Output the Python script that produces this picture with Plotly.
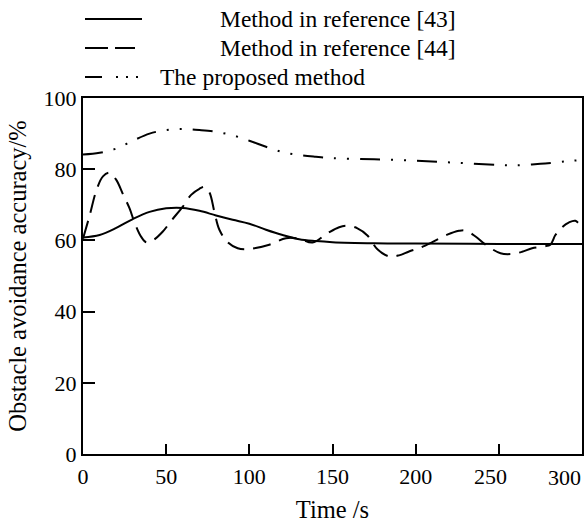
import plotly.graph_objects as go

NB = "\u00a0"

# Time axis (s)
x_ticks = [0, 50, 100, 150, 200, 250, 300]
x_ticklabels = ["0", "50", "100", "150", "200", "250", "300"]
y_ticks = [0, 20, 40, 60, 80, 100]
y_ticklabels = ["0", "20", "40", "60", "80", "100"]

# Method in reference [43]
t_ref43 = [0, 10, 20, 30, 40, 50, 60, 70, 80, 90, 100, 110, 120, 130, 140, 150, 175, 200, 250, 300]
v_ref43 = [60.8, 61.5, 63.5, 66.0, 68.0, 69.0, 69.1, 68.3, 67.0, 65.8, 64.7, 63.0, 61.5, 60.3, 59.8, 59.5, 59.2, 59.1, 59.0, 59.0]

# Method in reference [44]
t_ref44 = [0, 4, 8, 12, 16, 20, 24, 28, 31, 35, 38, 42, 48, 53, 60, 65, 70, 73, 76, 79, 82, 87, 93,
           97, 103, 112, 122, 130, 138, 147, 154, 159, 165, 171, 177, 184, 190, 196, 202, 210, 219,
           226, 230, 236, 242, 251, 258, 264, 270, 277, 281, 284, 288, 292, 296, 300]
v_ref44 = [60.5, 67.0, 74.0, 78.0, 79.0, 77.0, 73.0, 69.0, 65.0, 61.0, 59.5, 60.0, 62.5, 65.5, 69.5, 72.8, 74.5, 75.0, 73.5, 68.0, 63.0, 59.5, 57.8,
           57.5, 57.8, 58.8, 60.6, 60.5, 59.4, 62.0, 63.7, 64.1, 63.4, 61.4, 57.5, 55.5, 55.8, 56.9, 57.8, 59.5, 61.6,
           62.7, 62.8, 61.1, 58.8, 56.4, 56.2, 56.8, 57.8, 58.3, 58.8, 61.5, 63.7, 65.0, 65.5, 63.4]

# The proposed method
t_prop = [0, 10, 20, 30, 40, 50, 60, 70, 80, 90, 100, 110, 120, 130, 140, 150, 175, 200, 225, 250, 260, 275, 290, 300]
v_prop = [84.1, 84.6, 85.8, 88.0, 90.0, 91.0, 91.3, 91.0, 90.5, 89.5, 88.0, 86.3, 84.8, 84.0, 83.5, 83.1, 82.8, 82.4, 81.8, 81.2, 81.1, 81.5, 82.2, 82.6]

names = ["Method in reference [43]", "Method in reference [44]", "The proposed method"]

DASH_44 = "18px,9px"
DASH_PROP = "20px,11px,2px,11px,2px,11px"

fig = go.Figure()
fig.add_trace(go.Scatter(
    x=t_ref43, y=v_ref43, mode="lines", name=names[0], showlegend=False,
    line=dict(color="black", width=2, shape="spline", smoothing=1.0)))
fig.add_trace(go.Scatter(
    x=t_ref44, y=v_ref44, mode="lines", name=names[1], showlegend=False,
    line=dict(color="black", width=2, shape="spline", smoothing=1.0, dash=DASH_44)))
fig.add_trace(go.Scatter(
    x=t_prop, y=v_prop, mode="lines", name=names[2], showlegend=False,
    line=dict(color="black", width=2, shape="spline", smoothing=1.0, dash=DASH_PROP)))

# Legend drawn as key lines + text (plot area: x 83..582 px, y 98..454 px)
PL, PW, PT, PH = 83, 499, 98, 356
def px_x(p):
    return (p - PL) / PW
def px_y(p):
    return (PT + PH - p) / PH

legend_rows = [
    dict(y=19, x0=85, x1=142, dash="solid", tx=218),
    dict(y=48, x0=85, x1=135, dash="23px,7px", tx=218),
    dict(y=77, x0=85, x1=142, dash="17px,14px,2px,8px,2px,8px,2px,20px", tx=158),
]
for row, name in zip(legend_rows, names):
    fig.add_shape(type="line", xref="paper", yref="paper",
                  x0=px_x(row["x0"]), x1=px_x(row["x1"]), y0=px_y(row["y"]), y1=px_y(row["y"]),
                  line=dict(color="black", width=2, dash=row["dash"]))
    fig.add_annotation(xref="paper", yref="paper", x=px_x(row["tx"]), y=px_y(row["y"]),
                       xanchor="left", yanchor="middle", showarrow=False, text=name,
                       font=dict(family="Liberation Serif", size=23.5, color="black"))

# Tick labels: the last one is set as text pulled inside the figure edge, as in the reference
shown_ticktext = [t if v != x_ticks[-1] else "" for v, t in zip(x_ticks, x_ticklabels)]
shown_ticktext[-2] = x_ticklabels[-2] + NB * 3
fig.add_annotation(xref="x", yref="y", x=x_ticks[-1], y=0, xanchor="right", yanchor="middle",
                   xshift=1, yshift=-23, showarrow=False, text=x_ticklabels[-1],
                   font=dict(family="Liberation Serif", size=22, color="black"))

fig.update_layout(
    width=584, height=523,
    margin=dict(l=83, r=2, t=98, b=69, autoexpand=False),
    plot_bgcolor="white", paper_bgcolor="white",
    font=dict(family="Liberation Serif", size=22, color="black"),
    showlegend=False,
    xaxis=dict(
        range=[0, 300], tickmode="array", tickvals=x_ticks, ticktext=shown_ticktext,
        ticks="inside", ticklen=10, tickwidth=2, tickcolor="black",
        showline=True, linewidth=2, linecolor="black", mirror=True,
        showgrid=False, zeroline=False, automargin=False, ticklabelstandoff=2,
        tickfont=dict(size=22),
        title=dict(text="Time /s", font=dict(size=24.5), standoff=13),
    ),
    yaxis=dict(
        range=[0, 100], tickmode="array", tickvals=y_ticks, ticktext=y_ticklabels,
        ticks="inside", ticklen=12, tickwidth=2, tickcolor="black",
        showline=True, linewidth=2, linecolor="black", mirror=True,
        showgrid=False, zeroline=False, automargin=False,
        tickfont=dict(size=22),
        title=dict(text="Obstacle avoidance accuracy/%", font=dict(size=24.5), standoff=10),
    ),
)

fig.write_html("out.html", config={"displayModeBar": False},
               post_script="document.body.style.margin='0';document.body.style.overflow='hidden';")
